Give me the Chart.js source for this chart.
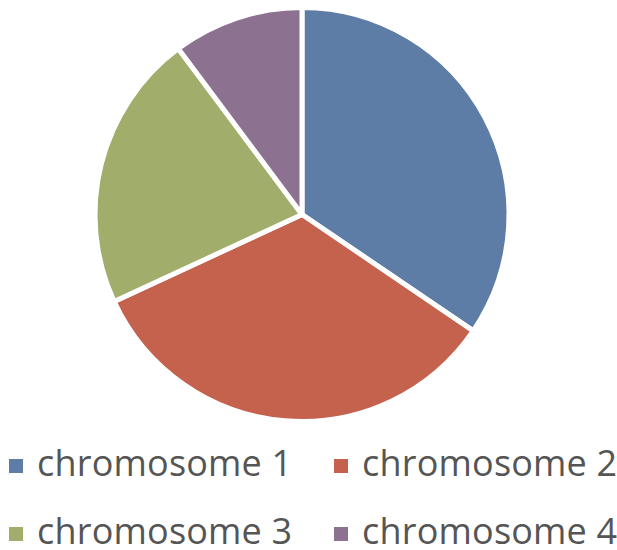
<!DOCTYPE html>
<html>
<head>
<meta charset="utf-8">
<script src="https://cdn.jsdelivr.net/npm/chart.js@4"></script>
<style>
  html, body { margin:0; padding:0; background:#fff; width:617px; height:550px; overflow:hidden; }
  #wrap { position:relative; width:617px; height:550px; overflow:hidden; }
  #pieBox { position:absolute; left:0; top:0; width:617px; height:424px; }
  .lg-box { position:absolute; width:14px; height:14px; }
  .lg-text { position:absolute; font-family:"Open Sans", sans-serif; font-size:36px; line-height:36px; color:#555555; white-space:nowrap; letter-spacing:0.2px; }
</style>
</head>
<body>
<div id="wrap">
  <div id="pieBox"><canvas id="pieChart"></canvas></div>
  <div id="legend"></div>
</div>
<script>
const labels = ['chromosome 1', 'chromosome 2', 'chromosome 3', 'chromosome 4'];
const values = [34.5, 33.6, 21.7, 10.2];
const colors = ['#5d7ca6', '#c5624e', '#a1ad6b', '#8d7191'];

document.addEventListener('DOMContentLoaded', () => {
    const ctx = document.getElementById('pieChart');
    new Chart(ctx.getContext('2d'), {
        type: 'pie',
        data: {
            labels: labels,
            datasets: [{ data: values, backgroundColor: colors, borderColor: '#ffffff', borderWidth: 5 }]
        },
        options: {
            responsive: true,
            maintainAspectRatio: false,
            animation: false,
            layout: { padding: { left: 0, right: 13, top: 5, bottom: 0 } },
            plugins: { legend: { display: false }, tooltip: { enabled: false } }
        }
    });

    // legend, 2 columns x 2 rows, clipped at the right edge like the original
    const legend = document.getElementById('legend');
    const colX = [9, 334];
    const rowTop = [445, 513];
    labels.forEach((lab, i) => {
        const c = i % 2, r = Math.floor(i / 2);
        const box = document.createElement('div');
        box.className = 'lg-box';
        box.style.left = colX[c] + 'px';
        box.style.top = (rowTop[r] + 14) + 'px';
        box.style.background = colors[i];
        const t = document.createElement('div');
        t.className = 'lg-text';
        t.style.left = (colX[c] + 28) + 'px';
        t.style.top = rowTop[r] + 'px';
        t.textContent = lab;
        legend.appendChild(box);
        legend.appendChild(t);
    });
});
</script>
</body>
</html>
